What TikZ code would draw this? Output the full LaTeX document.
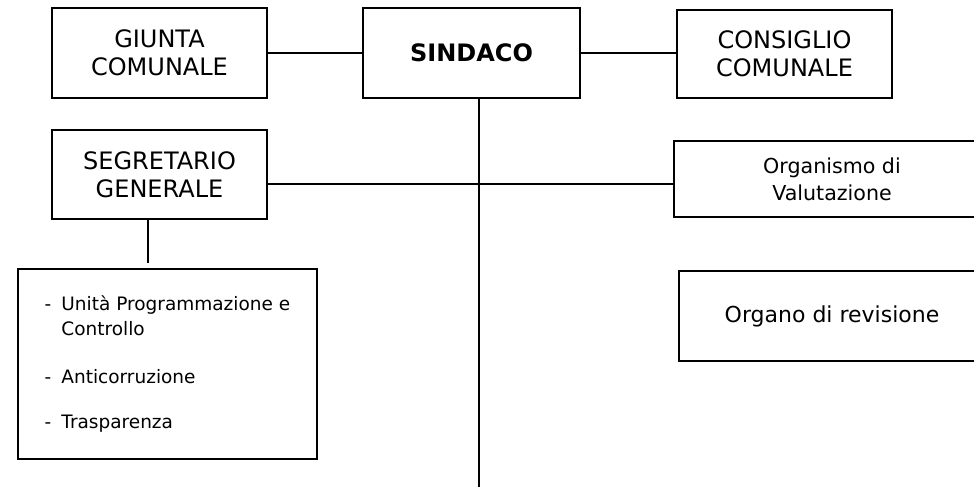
\documentclass[tikz,border=0pt]{standalone}
\usepackage{fontspec}
\setmainfont{DejaVu Sans}
\usepackage{tikz}

\tikzset{
  orgbox/.style={draw, line width=1.3pt, align=center, inner sep=0pt},
  capsfont/.style={font=\fontsize{24}{28}\selectfont},
  link/.style={line width=1.3pt},
}

\begin{document}
\begin{tikzpicture}[x=1pt, y=-1pt]
\useasboundingbox (0,0) rectangle (974,490);

\node[orgbox, capsfont, minimum width=215pt, minimum height=90pt] (giunta) at (159.5,53) {GIUNTA\\COMUNALE};
\node[orgbox, capsfont, minimum width=217pt, minimum height=90pt] (sindaco) at (471.5,53) {\textbf{SINDACO}};
\node[orgbox, capsfont, minimum width=215pt, minimum height=88pt] (consiglio) at (784.5,54) {CONSIGLIO\\COMUNALE};

\node[orgbox, capsfont, minimum width=215pt, minimum height=89pt] (segretario) at (159.5,174.5) {SEGRETARIO\\GENERALE};
\node[orgbox, font=\fontsize{20.6}{27}\selectfont, minimum width=316pt, minimum height=76pt] (organismo) at (832,179) {Organismo di\\Valutazione};
\node[orgbox, font=\fontsize{22}{27}\selectfont, minimum width=306pt, minimum height=90pt] (revisione) at (832,316) {Organo di revisione};

\node[orgbox, font=\fontsize{18.5}{25}\selectfont, minimum width=299pt, minimum height=190pt] (uffici) at (167.5,364) {%
  \begin{tabular}{@{}l@{\hspace{10pt}}l@{}}
  - & Unità Programmazione e\\
    & Controllo\\[23pt]
  - & Anticorruzione\\[20pt]
  - & Trasparenza
  \end{tabular}};

% linee
\coordinate (trunk) at (479,487);
\coordinate (staff) at (479,184);
\coordinate (ufficio) at (148,263);

\draw[link] (giunta.east) -- (sindaco.west);
\draw[link] (sindaco.east) -- (sindaco.east -| consiglio.west);
\draw[link] (sindaco.south -| trunk) -- (trunk);
\draw[link] (segretario.east |- staff) -- (organismo.west |- staff);
\draw[link] (segretario.south -| ufficio) -- (ufficio);

\end{tikzpicture}
\end{document}
